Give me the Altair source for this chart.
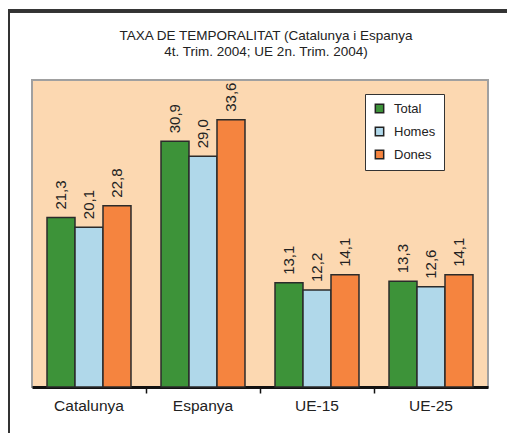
import altair as alt
import pandas as pd

regions = ["Catalunya", "Espanya", "UE-15", "UE-25"]
series = ["Total", "Homes", "Dones"]
total = [21.3, 30.9, 13.1, 13.3]
homes = [20.1, 29.0, 12.2, 12.6]
dones = [22.8, 33.6, 14.1, 14.1]
colors = ["#3d9339", "#b0d8ea", "#f5843f"]
title_lines = ["TAXA DE TEMPORALITAT (Catalunya i Espanya", "4t. Trim. 2004; UE 2n. Trim. 2004)"]

rows = []
for i, r in enumerate(regions):
    for s, vals in zip(series, [total, homes, dones]):
        rows.append({"regio": r, "serie": s, "valor": vals[i]})
df = pd.DataFrame(rows)

FONT = "Liberation Sans"
INK = "#222222"

x_enc = alt.X(
    "regio:N", sort=regions, title=None,
    scale=alt.Scale(paddingInner=0, paddingOuter=0),
    axis=alt.Axis(
        labelAngle=0, labelFontSize=15.5, labelFont=FONT, labelColor=INK,
        labelPadding=5, domainColor="#111111", domainWidth=3,
        tickColor={"condition": {"test": "datum.value === 'Catalunya'", "value": "transparent"}, "value": "#111111"},
        tickSize=6, tickWidth=1.5, bandPosition=0, grid=False,
    ),
)
xoff_enc = alt.XOffset("serie:N", sort=series,
                       scale=alt.Scale(paddingInner=0, paddingOuter=0.536))
y_enc = alt.Y("valor:Q", axis=None,
              scale=alt.Scale(domain=[0, 38.6], nice=False, zero=True))

base = alt.Chart(df)

bars = base.mark_bar(stroke="#2b2b2b", strokeWidth=1.5).encode(
    x=x_enc, xOffset=xoff_enc, y=y_enc,
    color=alt.Color(
        "serie:N", sort=series,
        scale=alt.Scale(domain=series, range=colors),
        legend=alt.Legend(
            title=None, orient="none", legendX=333, legendY=14,
            fillColor="white", strokeColor="#333333", padding=8,
            symbolType="square", symbolSize=70, symbolStrokeColor="#222222",
            symbolStrokeWidth=1.5, labelFontSize=13, labelFont=FONT,
            labelColor=INK, rowPadding=8, labelOffset=8,
        ),
    ),
)

labels = base.transform_calculate(
    etiqueta="replace(format(datum.valor, '.1f'), '.', ',')"
).mark_text(
    angle=270, align="left", baseline="middle", dx=8,
    fontSize=15, font=FONT, color=INK,
).encode(x=x_enc, xOffset=xoff_enc, y=y_enc, text="etiqueta:N")

frame_top = alt.Chart(df).mark_rule(color="#333333", strokeWidth=2.5).encode(
    x=alt.value(-24), x2=alt.value(475), y=alt.value(-69)
)
frame_left = alt.Chart(df).mark_rule(color="#333333", strokeWidth=2).encode(
    x=alt.value(-23), y=alt.value(-69), y2=alt.value(353)
)

chart = alt.layer(frame_top, frame_left, bars, labels).properties(
    width=456, height=307,
    padding={"left": 24, "top": 72, "right": 19, "bottom": 46},
    autosize=alt.AutoSizeParams(type="none"),
    background="white",
    title=alt.TitleParams(
        text=title_lines, fontSize=13.5, font=FONT, fontWeight="normal",
        color=INK, anchor="middle", frame="group", offset=-49, dx=6,
        lineHeight=16,
    ),
).configure_view(
    fill="#fcd8b1", stroke="#a0a0a0", strokeWidth=2
)

chart.save("out.html", embed_options={"renderer": "svg", "actions": False})
